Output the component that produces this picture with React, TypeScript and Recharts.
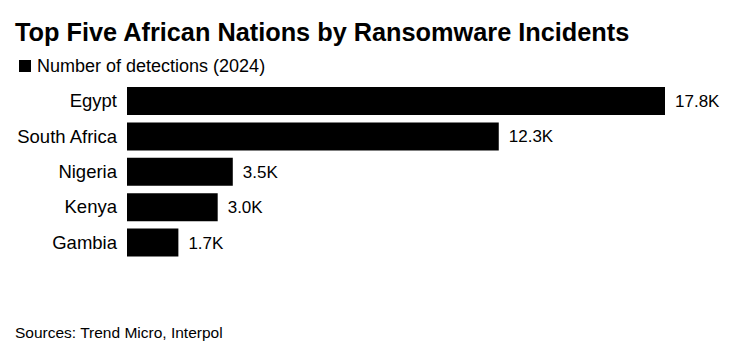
import React from 'react';
import { BarChart, Bar, XAxis, YAxis, LabelList } from 'recharts';

const countries = ['Egypt', 'South Africa', 'Nigeria', 'Kenya', 'Gambia'];
const detections = [17800, 12300, 3500, 3000, 1700];
const valueLabels = ['17.8K', '12.3K', '3.5K', '3.0K', '1.7K'];

const data = countries.map((name, i) => ({ name, value: detections[i], label: valueLabels[i] }));

const font = '"Liberation Sans", Arial, Helvetica, sans-serif';

const App: React.FC = () => {
  return (
    <div style={{ position: 'absolute', left: 0, top: 0, width: 731, height: 360, background: '#fff', fontFamily: font, color: '#000' }}>
      <div style={{ position: 'absolute', left: 15, top: 20, fontSize: 25.3, lineHeight: 1, fontWeight: 700, whiteSpace: 'nowrap' }}>
        Top Five African Nations by Ransomware Incidents
      </div>
      <div style={{ position: 'absolute', left: 19, top: 60, width: 12, height: 12, background: '#000' }} />
      <div style={{ position: 'absolute', left: 37, top: 57, fontSize: 18, lineHeight: 1, whiteSpace: 'nowrap' }}>
        Number of detections (2024)
      </div>
      <div style={{ position: 'absolute', left: 0, top: 0 }}>
        <BarChart
          width={731}
          height={360}
          data={data}
          layout="vertical"
          margin={{ top: 83, right: 66, bottom: 100, left: 0 }}
          barSize={28}
        >
          <XAxis type="number" domain={[0, 17800]} hide />
          <YAxis
            type="category"
            dataKey="name"
            width={127}
            axisLine={false}
            tickLine={false}
            tickSize={0}
            tickMargin={10}
            tick={{ fill: '#000', fontSize: 18.5, fontFamily: font }}
          />
          <Bar dataKey="value" fill="#000" isAnimationActive={false}>
            <LabelList dataKey="label" position="right" offset={10} fill="#000" fontSize={17} fontFamily={font} />
          </Bar>
        </BarChart>
      </div>
      <div style={{ position: 'absolute', left: 15, top: 325, fontSize: 15.5, lineHeight: 1, whiteSpace: 'nowrap' }}>
        Sources: Trend Micro, Interpol
      </div>
    </div>
  );
};

export default App;
